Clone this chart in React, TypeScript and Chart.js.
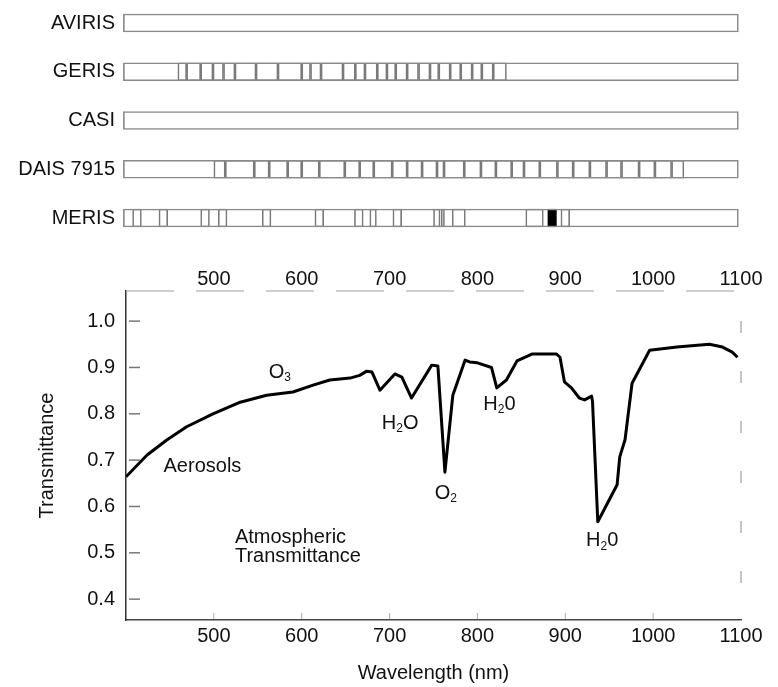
import React, { useEffect, useRef } from 'react';
import { Chart, registerables } from 'chart.js';

Chart.register(...registerables);

const FONT = "'Liberation Sans', Arial, Helvetica, sans-serif";

// ---- Top panel: sensor band layouts (nm) ----
const sensors = ['AVIRIS', 'GERIS', 'CASI', 'DAIS 7915', 'MERIS'];
const sensorCoverage = [
  [397, 1097],
  [397, 1097],
  [397, 1097],
  [397, 1097],
  [397, 1097],
];
const gerisEdges = [459, 469, 485, 499, 511, 524, 548, 573, 600, 610, 622, 647, 661, 672, 686, 697, 707, 720, 733, 746, 756, 769, 781, 794, 805, 818, 833];
const daisEdges = [500, 513, 546, 563, 584, 600, 620, 649, 666, 682, 703, 720, 737, 754, 762, 785, 804, 821, 839, 853, 871, 891, 909, 928, 947, 964, 984, 1002, 1021, 1035];
const merisBands = [
  [407.5, 417.5], [437.5, 447.5], [485, 495], [505, 515], [555, 565], [615, 625],
  [660, 670], [677.5, 685], [703.75, 713.75], [750, 757.5], [758.75, 762.5],
  [771.25, 786.25], [855, 875], [895, 905],
];
const merisHighlight = [[880, 890]];

// ---- Bottom panel: atmospheric transmittance ----
const wavelengths = [400, 424, 446, 469, 499, 530, 560, 590, 613, 632, 655, 666, 674, 680, 689, 706, 714, 725, 748, 755, 763, 772, 786, 791, 800, 816, 822, 833, 845, 862, 890, 894, 899, 907, 916, 922, 930, 931, 937, 959, 962, 968, 976, 996, 1027, 1064, 1079, 1090, 1096];
const transmittance = [0.664, 0.711, 0.743, 0.772, 0.8, 0.825, 0.84, 0.847, 0.862, 0.873, 0.877, 0.883, 0.892, 0.89, 0.851, 0.886, 0.879, 0.834, 0.905, 0.903, 0.674, 0.84, 0.916, 0.912, 0.91, 0.9, 0.856, 0.873, 0.914, 0.929, 0.929, 0.922, 0.869, 0.856, 0.834, 0.83, 0.838, 0.826, 0.567, 0.647, 0.707, 0.744, 0.866, 0.937, 0.944, 0.95, 0.944, 0.933, 0.922];

const xTickValues = [500, 600, 700, 800, 900, 1000, 1100];
const yTickValues = [0.4, 0.5, 0.6, 0.7, 0.8, 0.9, 1.0];

// text annotations: '_x' marks a subscript piece
const annotationLabels = [
  { parts: ['O', '_3'], wl: 575, t: 0.89, align: 'center' },
  { parts: ['H', '_2', 'O'], wl: 712, t: 0.78, align: 'center' },
  { parts: ['O', '_2'], wl: 764, t: 0.629, align: 'center' },
  { parts: ['H', '_2', '0'], wl: 825, t: 0.821, align: 'center' },
  { parts: ['H', '_2', '0'], wl: 942, t: 0.527, align: 'center' },
  { parts: ['Aerosols'], wl: 487, t: 0.687, align: 'center' },
  { parts: ['Atmospheric'], wl: 524, t: 0.534, align: 'left' },
  { parts: ['Transmittance'], wl: 524, t: 0.491, align: 'left' },
];

const bandsFromEdges = (edges: number[]) => edges.slice(1).map((e, i) => [edges[i], e]);

function drawRich(ctx: CanvasRenderingContext2D, parts: string[], x: number, y: number, align: string) {
  const main = `20px ${FONT}`;
  const sub = `12px ${FONT}`;
  const segs = parts.map((p) => (p.startsWith('_') ? { t: p.slice(1), sub: true, w: 0 } : { t: p, sub: false, w: 0 }));
  let total = 0;
  segs.forEach((s) => {
    ctx.font = s.sub ? sub : main;
    s.w = ctx.measureText(s.t).width;
    total += s.w;
  });
  let cx = align === 'left' ? x : x - total / 2;
  ctx.textBaseline = 'middle';
  ctx.textAlign = 'left';
  segs.forEach((s) => {
    ctx.font = s.sub ? sub : main;
    ctx.fillText(s.t, cx, s.sub ? y + 6 : y);
    cx += s.w;
  });
}

const decorPlugin = {
  id: 'decor',
  afterDraw(chart: any) {
    const { ctx, chartArea, scales } = chart;
    const xs = scales.x;
    const ys = scales.y;
    ctx.save();
    // faded top and right frame lines
    ctx.strokeStyle = '#a0a0a0';
    ctx.lineWidth = 1.2;
    ctx.setLineDash([48, 22]);
    ctx.beginPath();
    ctx.moveTo(chartArea.left, chartArea.top);
    ctx.lineTo(chartArea.right, chartArea.top);
    ctx.stroke();
    ctx.setLineDash([12, 38]);
    ctx.lineDashOffset = -30;
    ctx.beginPath();
    ctx.moveTo(chartArea.right, chartArea.top);
    ctx.lineTo(chartArea.right, chartArea.bottom);
    ctx.stroke();
    ctx.setLineDash([]);
    // inward tick marks
    ctx.strokeStyle = '#777';
    ctx.lineWidth = 1.5;
    yTickValues.forEach((v) => {
      const py = ys.getPixelForValue(v);
      ctx.beginPath();
      ctx.moveTo(chartArea.left + 3, py);
      ctx.lineTo(chartArea.left + 14, py);
      ctx.stroke();
    });
    ctx.strokeStyle = '#aaa';
    ctx.lineWidth = 1;
    xTickValues.slice(0, -1).forEach((v) => {
      const px = xs.getPixelForValue(v);
      ctx.beginPath();
      ctx.moveTo(px, chartArea.bottom - 1);
      ctx.lineTo(px, chartArea.bottom - 7);
      ctx.stroke();
    });
    ctx.fillStyle = '#111';
    annotationLabels.forEach((a) => {
      drawRich(ctx, a.parts, xs.getPixelForValue(a.wl), ys.getPixelForValue(a.t), a.align);
    });
    ctx.restore();
  },
};

export default function App() {
  const topRef = useRef<HTMLCanvasElement>(null);
  const botRef = useRef<HTMLCanvasElement>(null);

  useEffect(() => {
    Chart.defaults.font.family = FONT;
    const barCommon = {
      borderWidth: 1,
      borderSkipped: false,
      barThickness: 18,
      grouped: false,
      clip: false,
      backgroundColor: 'rgba(0,0,0,0)',
    };
    const top = new Chart(topRef.current as HTMLCanvasElement, {
      type: 'bar',
      data: {
        labels: sensors,
        datasets: [
          { ...barCommon, label: 'Coverage', borderColor: '#8a8a8a', data: sensors.map((s, i) => ({ y: s, x: sensorCoverage[i] })) },
          { ...barCommon, label: 'GERIS bands', borderColor: '#7a7a7a', data: bandsFromEdges(gerisEdges).map((r) => ({ y: 'GERIS', x: r })) },
          { ...barCommon, label: 'DAIS bands', borderColor: '#7a7a7a', data: bandsFromEdges(daisEdges).map((r) => ({ y: 'DAIS 7915', x: r })) },
          { ...barCommon, label: 'MERIS bands', borderColor: '#7a7a7a', data: merisBands.map((r) => ({ y: 'MERIS', x: r })) },
          { ...barCommon, label: 'MERIS 890', borderColor: '#000', backgroundColor: '#000', data: merisHighlight.map((r) => ({ y: 'MERIS', x: r })) },
        ] as any,
      },
      options: {
        indexAxis: 'y',
        responsive: false,
        animation: false,
        devicePixelRatio: 1,
        layout: { padding: { top: 20, bottom: 32, left: 0, right: 37 } },
        plugins: { legend: { display: false }, tooltip: { enabled: false } },
        scales: {
          x: { type: 'linear', min: 400, max: 1100, display: false },
          y: {
            type: 'category',
            offset: false,
            grid: { display: false, drawTicks: false },
            border: { display: false },
            ticks: { font: { size: 20 }, color: '#111', padding: 11, autoSkip: false },
            afterFit: (s: any) => { s.width = 126; },
          },
        },
      } as any,
    });

    const bot = new Chart(botRef.current as HTMLCanvasElement, {
      type: 'line',
      data: {
        datasets: [
          {
            label: 'Transmittance',
            data: wavelengths.map((w, i) => ({ x: w, y: transmittance[i] })),
            borderColor: '#000',
            borderWidth: 3,
            pointRadius: 0,
            tension: 0,
            fill: false,
            borderJoinStyle: 'round',
          },
        ],
      },
      options: {
        responsive: false,
        animation: false,
        devicePixelRatio: 1,
        layout: { padding: 0 },
        plugins: { legend: { display: false }, tooltip: { enabled: false } },
        scales: {
          x: {
            type: 'linear',
            position: 'bottom',
            min: 400,
            max: 1100,
            afterBuildTicks: (s: any) => { s.ticks = xTickValues.map((v) => ({ value: v })); },
            ticks: { font: { size: 20 }, color: '#111', padding: 4, maxRotation: 0, autoSkip: false, callback: (v: any) => String(v) },
            grid: { display: false, drawTicks: false },
            border: { color: '#444', width: 1.5 },
            title: { display: true, text: 'Wavelength (nm)', font: { size: 20 }, color: '#111', padding: { top: 0, bottom: 2 } },
            afterFit: (s: any) => { s.height = 67; },
          },
          x2: {
            type: 'linear',
            position: 'top',
            min: 400,
            max: 1100,
            afterBuildTicks: (s: any) => { s.ticks = xTickValues.map((v) => ({ value: v })); },
            ticks: { font: { size: 20 }, color: '#111', padding: 0, maxRotation: 0, autoSkip: false, callback: (v: any) => String(v) },
            grid: { display: false, drawTicks: false },
            border: { display: false },
            afterFit: (s: any) => { s.height = 41; },
          },
          y: {
            type: 'linear',
            position: 'left',
            min: 0.355,
            max: 1.065,
            afterBuildTicks: (s: any) => { s.ticks = yTickValues.map((v) => ({ value: v })); },
            ticks: { font: { size: 20 }, color: '#111', padding: 11, callback: (v: any) => Number(v).toFixed(1) },
            grid: { display: false, drawTicks: false },
            border: { color: '#333', width: 1.5 },
            title: { display: true, text: 'Transmittance', font: { size: 20 }, color: '#111', padding: { top: 35, bottom: 0 } },
            afterFit: (s: any) => { s.width = 126; },
          },
          y2: {
            type: 'linear',
            position: 'right',
            min: 0.355,
            max: 1.065,
            ticks: { display: false },
            grid: { display: false, drawTicks: false },
            border: { display: false },
            afterFit: (s: any) => { s.width = 37; },
          },
        },
      } as any,
      plugins: [decorPlugin],
    });

    return () => {
      top.destroy();
      bot.destroy();
    };
  }, []);

  return (
    <div style={{ position: 'absolute', left: 0, top: 0, width: 778, height: 687, background: '#fff' }}>
      <canvas ref={topRef} width={778} height={250} style={{ position: 'absolute', left: 0, top: 0, width: 778, height: 250 }} />
      <canvas ref={botRef} width={778} height={437} style={{ position: 'absolute', left: 0, top: 250, width: 778, height: 437 }} />
    </div>
  );
}
